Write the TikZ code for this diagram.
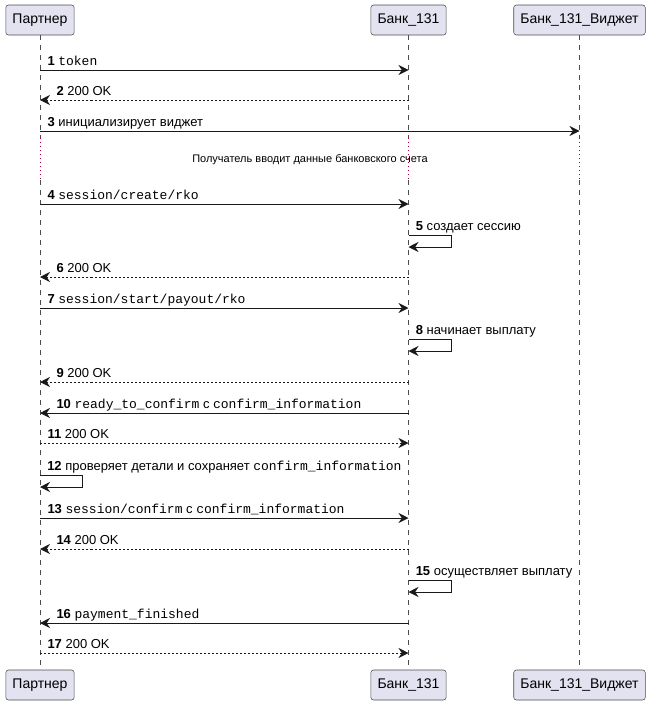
\documentclass[tikz,border=0pt]{standalone}
\usepackage{fontspec}
\setmainfont{Liberation Sans}
\setmonofont{Liberation Mono}
\usetikzlibrary{arrows.meta}
\definecolor{partfill}{HTML}{E2E2F0}
\definecolor{delayred}{HTML}{A80036}

\begin{document}
\begin{tikzpicture}[x=0.75pt, y=-0.75pt,
	part/.style={draw=black!70, fill=partfill, rounded corners=2pt, minimum height=22.5pt, inner xsep=5pt, font=\fontsize{10.5}{12}\selectfont},
	life/.style={draw=black!70, line width=0.5pt, dash pattern=on 3.75pt off 3.75pt},
	delay/.style={draw=delayred, line width=0.6pt, dash pattern=on 0.75pt off 2.25pt},
	msg/.style={-{Stealth[length=7.5pt, width=7.5pt, inset=2.5pt]}, draw=black!90, line width=0.75pt},
	reply/.style={msg, dash pattern=on 1.5pt off 1.5pt},
	lbl/.style={font=\fontsize{9.75}{11}\selectfont, inner sep=0pt, anchor=base west},
	delaylbl/.style={font=\fontsize{8.25}{10}\selectfont, inner sep=0pt}
	]
	\useasboundingbox (0,0) rectangle (652,707);
	% participants
	\node[part] (ptop) at (40,20) {Партнер};
	\node[part] (btop) at (408.5,20) {Банк\_131};
	\node[part] (wtop) at (579.5,20) {Банк\_131\_Виджет};
	\node[part] (pbot) at (40,685) {Партнер};
	\node[part] (bbot) at (408.5,685) {Банк\_131};
	\node[part] (wbot) at (579.5,685) {Банк\_131\_Виджет};
	% lifelines with delay break
	\coordinate (dl1) at (0,138);
	\coordinate (dl2) at (0,180);
	\foreach \l in {p,b,w} {
		\draw[life] (\l top.south) -- (\l top.south |- dl1);
		\draw[delay] (\l top.south |- dl1) -- (\l top.south |- dl2);
		\draw[life] (\l top.south |- dl2) -- (\l bot.north);
	}
	\node[delaylbl] (delaytxt) at (310,160) {Получатель вводит данные банковского счета};
	% message points
	\foreach \n/\y in {1/70,2/100,3/131,4/204,5/235,6/277,7/308,8/339,9/382,10/413,11/443,12/475,13/518,14/549,15/580,16/623,17/653} {
		\coordinate (p\n) at (ptop.south |- 0,\y);
		\coordinate (b\n) at (btop.south |- 0,\y);
		\coordinate (w\n) at (wtop.south |- 0,\y);
	}
	\coordinate (b5e) at (btop.south |- 0,247);
	\coordinate (b8e) at (btop.south |- 0,351);
	\coordinate (p12e) at (ptop.south |- 0,487);
	\coordinate (b15e) at (btop.south |- 0,592);
	% messages
	\draw[msg] (p1) -- (b1) node[lbl, pos=0, xshift=5.25pt, yshift=3.75pt] {\textbf{1} \texttt{token}};
	\draw[reply] (b2) -- (p2) node[lbl, pos=1, xshift=12pt, yshift=3.75pt] {\textbf{2} 200 OK};
	\draw[msg] (p3) -- (w3) node[lbl, pos=0, xshift=5.25pt, yshift=3.75pt] {\textbf{3} инициализирует виджет};
	\draw[msg] (p4) -- (b4) node[lbl, pos=0, xshift=5.25pt, yshift=3.75pt] {\textbf{4} \texttt{session/create/rko}};
	\draw[msg] (b5) -- ++(43,0) |- (b5e);
	\node[lbl, xshift=5.25pt, yshift=3.75pt] (l5) at (b5) {\textbf{5} создает сессию};
	\draw[reply] (b6) -- (p6) node[lbl, pos=1, xshift=12pt, yshift=3.75pt] {\textbf{6} 200 OK};
	\draw[msg] (p7) -- (b7) node[lbl, pos=0, xshift=5.25pt, yshift=3.75pt] {\textbf{7} \texttt{session/start/payout/rko}};
	\draw[msg] (b8) -- ++(43,0) |- (b8e);
	\node[lbl, xshift=5.25pt, yshift=3.75pt] (l8) at (b8) {\textbf{8} начинает выплату};
	\draw[reply] (b9) -- (p9) node[lbl, pos=1, xshift=12pt, yshift=3.75pt] {\textbf{9} 200 OK};
	\draw[msg] (b10) -- (p10) node[lbl, pos=1, xshift=12pt, yshift=3.75pt] {\textbf{10} \texttt{ready\_to\_confirm} с \texttt{confirm\_information}};
	\draw[reply] (p11) -- (b11) node[lbl, pos=0, xshift=5.25pt, yshift=3.75pt] {\textbf{11} 200 OK};
	\draw[msg] (p12) -- ++(42,0) |- (p12e);
	\node[lbl, xshift=5.25pt, yshift=3.75pt] (l12) at (p12) {\textbf{12} проверяет детали и сохраняет \texttt{confirm\_information}};
	\draw[msg] (p13) -- (b13) node[lbl, pos=0, xshift=5.25pt, yshift=3.75pt] {\textbf{13} \texttt{session/confirm} с \texttt{confirm\_information}};
	\draw[reply] (b14) -- (p14) node[lbl, pos=1, xshift=12pt, yshift=3.75pt] {\textbf{14} 200 OK};
	\draw[msg] (b15) -- ++(43,0) |- (b15e);
	\node[lbl, xshift=5.25pt, yshift=3.75pt] (l15) at (b15) {\textbf{15} осуществляет выплату};
	\draw[msg] (b16) -- (p16) node[lbl, pos=1, xshift=12pt, yshift=3.75pt] {\textbf{16} \texttt{payment\_finished}};
	\draw[reply] (p17) -- (b17) node[lbl, pos=0, xshift=5.25pt, yshift=3.75pt] {\textbf{17} 200 OK};
\end{tikzpicture}
\end{document}
